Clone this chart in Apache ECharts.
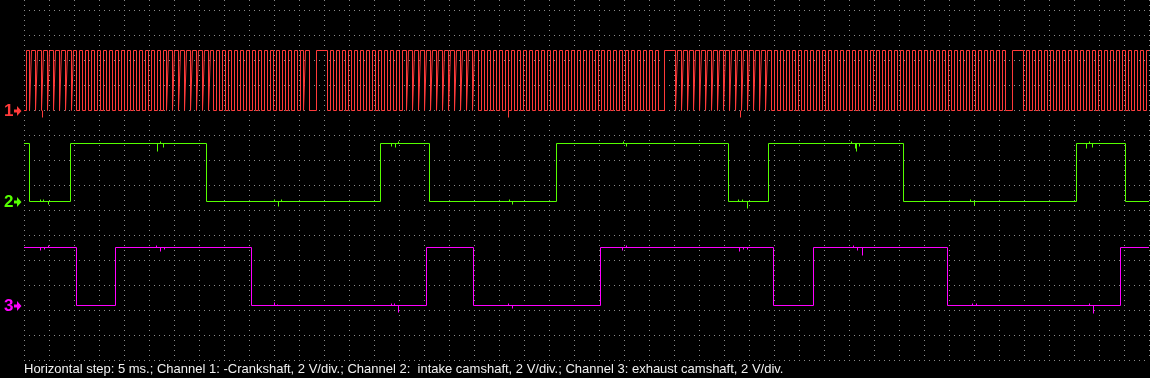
<!DOCTYPE html>
<html>
<head>
<meta charset="utf-8">
<script src="https://cdn.jsdelivr.net/npm/echarts@6/dist/echarts.min.js"></script>
<style>
html,body{margin:0;padding:0;background:#000;}
#chart{width:1150px;height:378px;}
</style>
</head>
<body>
<div id="chart"></div>
<script>
// ---- data (time in ms, levels in volts) ----
const timeRange = [0, 225];
const caption = 'Horizontal step: 5 ms.; Channel 1: -Crankshaft, 2 V/div.; Channel 2:  intake camshaft, 2 V/div.; Channel 3: exhaust camshaft, 2 V/div.';
const channelNames = ['1', '2', '3'];

// Channel 1 (crankshaft, inverted): toggle times, starting low
const crankStartHigh = false;
const crankHighV = 4.8;
const crankEdges = [
  0.5,1.1, 1.5,2.3, 2.7,3.5, 3.9,4.7, 5.1,5.9, 6.3,7.1, 7.5,8.3, 8.7,9.5, 9.9,10.5, 11.1,11.7, 12.3,12.9,
  13.5,14.1, 14.7,15.3, 15.9,16.5, 17.1,17.7, 18.3,18.9, 19.5,20.1, 20.7,21.3, 21.9,22.5, 23.1,23.7,
  24.3,24.9, 25.5,26.1, 26.7,27.3, 27.9,28.5, 28.9,29.7, 30.1,30.9, 31.3,32.1, 32.5,33.3, 33.7,34.5,
  34.9,35.7, 36.1,36.9, 37.3,37.9, 38.5,39.1, 39.7,40.3, 40.9,41.5, 42.1,42.7, 43.3,43.9, 44.5,45.1,
  45.7,46.3, 46.9,47.5, 48.1,48.7, 49.3,49.9, 50.5,51.1, 51.7,52.3, 52.9,53.5, 54.1,54.7, 55.3,55.9, 56.3,57.1,
  58.5,60.7,
  61.3,61.9, 62.5,63.1, 63.7,64.3, 64.9,65.5, 66.1,66.7, 67.3,67.9, 68.5,69.1, 69.7,70.3, 70.9,71.5,
  72.1,72.7, 73.3,73.9, 74.5,75.1, 75.7,76.5, 76.9,77.7, 78.1,78.9, 79.3,80.1, 80.5,81.3, 81.7,82.5,
  82.9,83.7, 84.1,84.9, 85.3,86.1, 86.5,87.3, 87.7,88.5, 88.9,89.7, 90.1,90.9, 91.5,92.1, 92.7,93.3,
  93.9,94.5, 95.1,95.7, 96.3,96.9, 97.5,98.1, 98.7,99.3, 99.9,100.5, 101.1,101.7, 102.3,102.9, 103.5,104.1,
  104.7,105.3, 105.9,106.5, 107.1,107.7, 108.3,108.9, 109.5,110.1, 110.7,111.3, 111.9,112.5, 113.1,113.7,
  114.3,114.9, 115.5,116.1, 116.7,117.3, 117.9,118.5, 119.1,119.7, 120.3,120.9, 121.5,122.1, 122.7,123.3,
  123.9,124.5, 125.1,125.7, 126.3,126.9,
  128.1,130.3,
  130.7,131.5, 131.9,132.7, 133.1,133.9, 134.3,135.1, 135.5,136.3, 136.7,137.5, 137.9,138.7, 139.1,139.9,
  140.3,141.1, 141.5,142.3, 142.7,143.5, 143.9,144.7, 145.1,145.9, 146.3,147.1, 147.5,148.3, 148.7,149.5,
  150.1,150.7, 151.3,151.9, 152.5,153.1, 153.7,154.3, 154.9,155.5, 156.1,156.7, 157.3,157.9, 158.5,159.1,
  159.7,160.3, 160.9,161.5, 162.1,162.7, 163.3,163.9, 164.5,165.1, 165.7,166.3, 166.9,167.5, 168.1,168.7,
  169.3,169.9, 170.5,171.1, 171.7,172.3, 172.9,173.5, 174.1,174.7, 175.3,175.9, 176.5,177.1, 177.7,178.3,
  178.9,179.5, 180.1,180.7, 181.3,181.9, 182.5,183.1, 183.7,184.3, 184.9,185.5, 186.1,186.7, 187.3,187.9,
  188.5,189.1, 189.7,190.3, 190.9,191.5, 192.1,192.7, 193.3,193.9, 194.5,195.1, 195.7,196.3,
  197.7,199.9,
  200.5,201.1, 201.7,202.3, 202.9,203.5, 204.1,204.7, 205.3,205.9, 206.5,207.1, 207.7,208.3, 208.9,209.5,
  210.1,210.7, 211.3,211.9, 212.5,213.1, 213.7,214.3, 214.9,215.5, 216.1,216.7, 217.3,217.9, 218.5,219.1,
  219.7,220.3, 220.9,221.5, 222.1,222.7, 223.3,223.9, 224.5
];
// glitch spikes: [time, fromV, toV]
const crankSpikes = [[3.7, 0, -0.56], [96.9, 0, -0.56], [143.3, 0, -0.56]];

// Channel 2 (intake camshaft): toggle times, starting high
const intakeStartHigh = true;
const intakeHighV = 4.64;
const intakeEdges = [1.1, 9.3, 36.5, 71.3, 81.1, 106.5, 140.9, 148.9, 175.9, 210.5, 220.3];
const intakeSpikes = [
  [3.3, 0, 0.16], [3.9, 0, 0.16], [4.9, 0, -0.24],
  [26.7, 4.64, 4.0], [27.3, 4.64, 4.8], [27.9, 4.64, 4.32],
  [50.1, 0, 0.16], [50.9, 0, -0.4], [51.5, 0, 0.16],
  [73.5, 4.64, 4.4], [74.3, 4.64, 4.32], [74.9, 4.64, 4.8],
  [97.1, 0, 0.16], [97.7, 0, -0.24],
  [119.9, 4.64, 4.8], [120.5, 4.64, 4.4],
  [142.9, 0, 0.16], [143.7, 0, 0.16], [144.7, 0, -0.56],
  [165.5, 4.64, 4.8], [166.3, 4.64, 4.24], [166.5, 4.64, 4.0], [167.1, 4.64, 4.4],
  [189.3, 0, 0.16], [190.1, 0, -0.32],
  [212.5, 4.64, 4.24], [213.1, 4.64, 4.8], [213.7, 4.64, 4.32]
];

// Channel 3 (exhaust camshaft): toggle times, starting high
const exhaustStartHigh = true;
const exhaustHighV = 4.64;
const exhaustEdges = [10.5, 18.3, 45.5, 80.5, 89.9, 115.3, 149.9, 157.9, 184.7, 219.3];
const exhaustSpikes = [
  [3.3, 4.64, 4.4], [4.1, 4.64, 4.48], [4.9, 4.64, 4.8],
  [26.5, 4.64, 4.8], [27.3, 4.64, 4.32], [28.1, 4.64, 4.48],
  [50.1, 0, 0.24], [50.7, 0, 0.08],
  [73.5, 0, 0.16], [74.1, 0, 0.16], [74.9, 0, -0.56],
  [96.9, 0, 0.16], [97.7, 0, -0.24],
  [119.7, 4.64, 4.4], [120.5, 4.64, 4.8],
  [143.1, 4.64, 4.32], [143.9, 4.64, 4.48], [144.7, 4.64, 4.48],
  [165.9, 4.64, 4.8], [166.7, 4.64, 4.4], [167.7, 4.64, 4.0],
  [189.7, 0, 0.16], [190.5, 0, 0.16],
  [213.1, 0, 0.16], [213.9, 0, -0.64]
];

// ---- presentation ----
const zeroOffsets = [19.96, 12.68, 4.36];   // screen offset of each channel's 0 V level
const colors = ['#ff3a3a', '#55ff00', '#ff00ff'];

function stepData(edges, startHigh, highV, offset) {
  let level = startHigh ? 1 : 0;
  const out = [[timeRange[0], offset + level * highV]];
  for (const t of edges) {
    out.push([t, offset + level * highV]);
    level = 1 - level;
    out.push([t, offset + level * highV]);
  }
  out.push([timeRange[1], offset + level * highV]);
  return out;
}
function spikeData(spikes, offset) {
  return spikes.map(s => ({coords: [[s[0], offset + s[1]], [s[0], offset + s[2]]]}));
}

const chart = echarts.init(document.getElementById('chart'), null, {renderer: 'canvas'});
const dotStyle = {color: '#8c8c8c', width: 1, type: [1, 4]};

function mkSeries(data, color) {
  return {
    type: 'line', data: data, showSymbol: false, symbol: 'none', animation: false,
    lineStyle: {color: color, width: 1}, clip: true, silent: true, progressive: 0
  };
}
function mkSpikes(data, color) {
  return {
    type: 'lines', coordinateSystem: 'cartesian2d', data: data, animation: false, silent: true,
    lineStyle: {color: color, width: 1, opacity: 1}, symbol: 'none', effect: {show: false}
  };
}

chart.setOption({
  backgroundColor: '#000000',
  animation: false,
  grid: {left: 24, right: 1, top: 0, bottom: 18, containLabel: false},
  xAxis: {type: 'value', min: timeRange[0], max: timeRange[1], interval: 5,
    axisLine: {show: false}, axisTick: {show: false}, axisLabel: {show: false},
    splitLine: {show: true, lineStyle: dotStyle}},
  yAxis: {type: 'value', min: 0, max: 28.8, interval: 2,
    axisLine: {show: false}, axisTick: {show: false}, axisLabel: {show: false},
    splitLine: {show: true, showMaxLine: false, lineStyle: dotStyle}},
  series: [
    mkSeries(stepData(crankEdges, crankStartHigh, crankHighV, zeroOffsets[0]), colors[0]),
    mkSeries(stepData(intakeEdges, intakeStartHigh, intakeHighV, zeroOffsets[1]), colors[1]),
    mkSeries(stepData(exhaustEdges, exhaustStartHigh, exhaustHighV, zeroOffsets[2]), colors[2]),
    mkSpikes(spikeData(crankSpikes, zeroOffsets[0]), colors[0]),
    mkSpikes(spikeData(intakeSpikes, zeroOffsets[1]), colors[1]),
    mkSpikes(spikeData(exhaustSpikes, zeroOffsets[2]), colors[2])
  ]
});

// channel markers at each 0 V level, plus caption
const graphics = [];
channelNames.forEach((name, i) => {
  const p = chart.convertToPixel({gridIndex: 0}, [timeRange[0], zeroOffsets[i]]);
  const y = Math.round(p[1]);
  graphics.push({
    type: 'text', left: 4, top: y - 8,
    style: {text: name, fill: colors[i], font: 'bold 17px "Liberation Sans", Arial, sans-serif'}
  });
  graphics.push({
    type: 'polygon',
    shape: {points: [[14, y - 1.5], [17, y - 1.5], [17, y - 5], [21.5, y], [17, y + 5], [17, y + 1.5], [14, y + 1.5]]},
    style: {fill: colors[i]}
  });
});
graphics.push({
  type: 'text', left: 24, top: 363,
  style: {text: caption, fill: '#f0f0f0', font: '13px "Liberation Sans", Arial, sans-serif'}
});
chart.setOption({graphic: graphics});
</script>
</body>
</html>
